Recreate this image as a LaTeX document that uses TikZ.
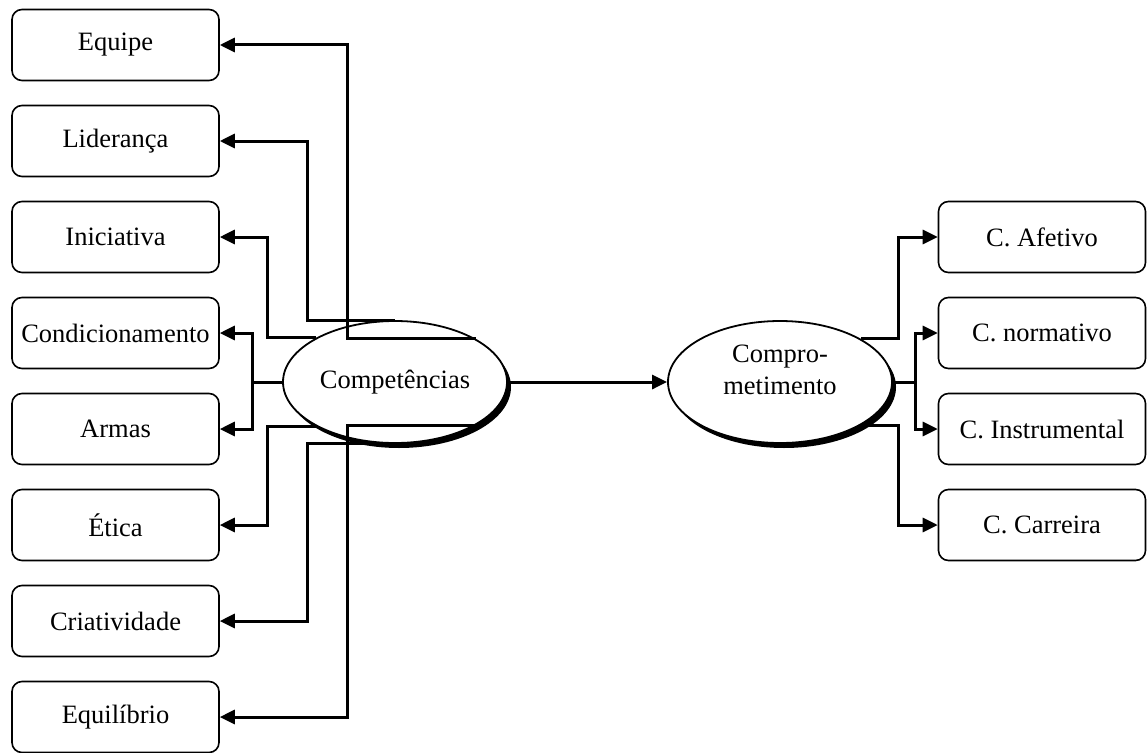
\documentclass[tikz,border=0pt]{standalone}
\usepackage{fontspec}
\setmainfont{Liberation Serif}
\usetikzlibrary{arrows.meta,shapes.geometric,shadows}
\begin{document}
\begin{tikzpicture}[x=1pt,y=-1pt,
  txt/.style={font=\fontsize{26.5}{32}\selectfont},
  box/.style={txt,draw,line width=1.6pt,rounded corners=10pt,
    minimum width=207pt,minimum height=71pt,inner sep=0pt},
  oval/.style={txt,ellipse,draw,fill=white,line width=1.8pt,
    minimum width=224pt,minimum height=122pt,inner sep=0pt,align=center,
    drop shadow={shadow xshift=4pt,shadow yshift=-5pt,fill=black,opacity=1}},
  link/.style={line width=3pt,-{Triangle[length=15pt,width=14pt]}}]
\useasboundingbox (0,0) rectangle (1147,752);

% competences (left column)
\node[box] (equipe) at (115.5,45)  {Equipe};
\node[box] (lider)  at (115.5,141) {Liderança};
\node[box] (inic)   at (115.5,237) {Iniciativa};
\node[box] (cond)   at (115.5,333) {Condicionamento};
\node[box] (armas)  at (115.5,429) {Armas};
\node[box] (etica)  at (115.5,525) {Ética};
\node[box] (criat)  at (115.5,621) {Criatividade};
\node[box] (equil)  at (115.5,717) {Equilíbrio};

% commitment types (right column)
\node[box] (afet)  at (1042,237) {C. Afetivo};
\node[box] (norm)  at (1042,333) {C. normativo};
\node[box] (instr) at (1042,429) {C. Instrumental};
\node[box] (carr)  at (1042,525) {C. Carreira};

% central concepts
\node[oval] (comp)  at (395,382) {Competências};
\node[oval] (compr) at (780,382) {\raisebox{4pt}[0pt][0pt]{\begin{tabular}{@{}c@{}}Compro-\\metimento\end{tabular}}};

% x positions of the vertical runs
\coordinate (xa) at (347,0);
\coordinate (xb) at (307,0);
\coordinate (xc) at (267,0);
\coordinate (xd) at (252,0);
\coordinate (xe) at (898,0);
\coordinate (xf) at (915,0);

% left fan
\draw[link] (comp.28.6)   -| (xa |- equipe.east) -- (equipe.east);
\draw[link] (comp.north)  -| (xb |- lider.east)  -- (lider.east);
\draw[link] (comp.151.4)  -| (xc |- inic.east)   -- (inic.east);
\draw[link] (comp.west)   -| (xd |- cond.east)   -- (cond.east);
\draw[link] (comp.west)   -| (xd |- armas.east)  -- (armas.east);
\draw[link] (comp.-151.4) -| (xc |- etica.east)  -- (etica.east);
\draw[link] (comp.south)  -| (xb |- criat.east)  -- (criat.east);
\draw[link] (comp.-28.6)  -| (xa |- equil.east)  -- (equil.east);

% main link
\draw[link] (comp.east) -- (compr.west);

% right fan
\draw[link] (compr.28.9)  -| (xe |- afet.west)  -- (afet.west);
\draw[link] (compr.east)  -| (xf |- norm.west)  -- (norm.west);
\draw[link] (compr.east)  -| (xf |- instr.west) -- (instr.west);
\draw[link] (compr.-28.9) -| (xe |- carr.west)  -- (carr.west);
\end{tikzpicture}
\end{document}
